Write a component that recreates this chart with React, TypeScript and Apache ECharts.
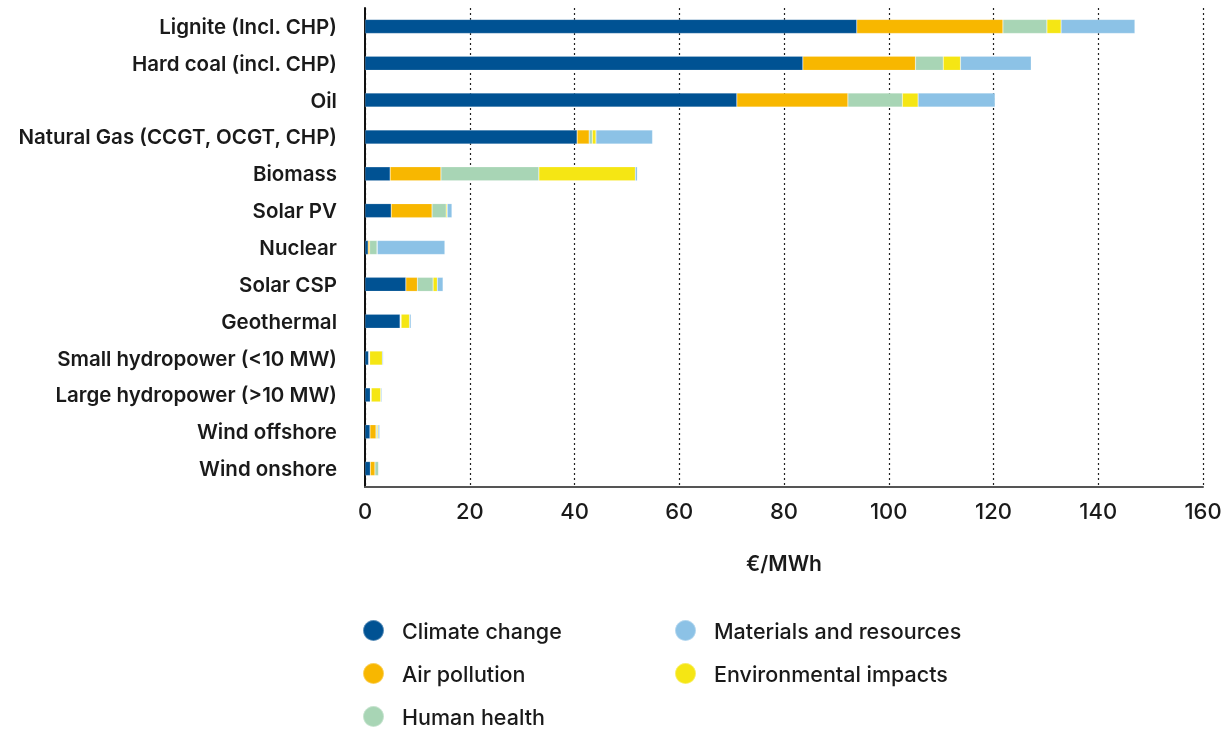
import React, { useEffect, useRef } from "react";
import * as echarts from "echarts";

const categories = [
  "Lignite (Incl. CHP)",
  "Hard coal (incl. CHP)",
  "Oil",
  "Natural Gas (CCGT, OCGT, CHP)",
  "Biomass",
  "Solar PV",
  "Nuclear",
  "Solar CSP",
  "Geothermal",
  "Small hydropower (<10 MW)",
  "Large hydropower (>10 MW)",
  "Wind offshore",
  "Wind onshore",
];

const climateChange = [93.9, 83.6, 71.0, 40.5, 4.8, 5.0, 0.6, 7.8, 6.7, 0.7, 1.0, 0.95, 1.0];
const airPollution = [27.9, 21.5, 21.2, 2.3, 9.7, 7.8, 0.3, 2.2, 0.1, 0.1, 0.1, 1.15, 0.9];
const humanHealth = [8.4, 5.3, 10.4, 0.6, 18.7, 2.7, 1.4, 3.0, 0.1, 0.1, 0.1, 0.2, 0.7];
const environmentalImpacts = [2.7, 3.3, 3.0, 0.7, 18.4, 0.2, 0.05, 0.8, 1.6, 2.4, 1.8, 0.2, 0.05];
const materialsResources = [14.1, 13.5, 14.7, 10.8, 0.4, 0.9, 12.9, 1.1, 0.3, 0.2, 0.2, 0.3, 0.1];

const xTicks = { min: 0, max: 160, interval: 20 };
const axisName = "€/MWh";

const seriesDefs = [
  { name: "Climate change", data: climateChange, color: "#005293" },
  { name: "Air pollution", data: airPollution, color: "#F8B700" },
  { name: "Human health", data: humanHealth, color: "#A8D5B5" },
  { name: "Environmental impacts", data: environmentalImpacts, color: "#F5E614" },
  { name: "Materials and resources", data: materialsResources, color: "#8CC2E6" },
];

const legendPos: Record<string, { left: number; top: number }> = {
  "Climate change": { left: 357, top: 614 },
  "Materials and resources": { left: 669, top: 614 },
  "Air pollution": { left: 357, top: 657 },
  "Environmental impacts": { left: 669, top: 657 },
  "Human health": { left: 357, top: 700 },
};

const FONT = "Inter, 'Noto Sans', sans-serif";

export default function App() {
  const ref = useRef<HTMLDivElement>(null);
  useEffect(() => {
    if (!ref.current) return;
    const chart = echarts.init(ref.current, null, { renderer: "svg" });
    chart.setOption({
      animation: false,
      textStyle: { fontFamily: FONT },
      grid: { left: 365, right: 28, top: 8, bottom: 244, containLabel: false },
      legend: seriesDefs.map((s) => ({
        data: [s.name],
        left: legendPos[s.name].left,
        top: legendPos[s.name].top,
        icon: "circle",
        itemWidth: 21,
        itemHeight: 21,
        itemGap: 0,
        selectedMode: false,
        textStyle: {
          fontFamily: FONT,
          fontSize: 21.5,
          fontWeight: 500,
          color: "#1a1a1a",
          padding: [0, 0, 0, 13],
        },
      })),
      xAxis: {
        type: "value",
        min: xTicks.min,
        max: xTicks.max,
        interval: xTicks.interval,
        name: axisName,
        nameLocation: "middle",
        nameGap: 66,
        nameTextStyle: { fontFamily: FONT, fontSize: 21, fontWeight: 600, color: "#1a1a1a" },
        axisLine: { show: true, lineStyle: { color: "#555", width: 2 } },
        axisTick: { show: false },
        axisLabel: { fontFamily: FONT, fontSize: 22, fontWeight: 500, color: "#1a1a1a", margin: 13 },
        splitLine: { show: true, lineStyle: { color: "#222", type: [2, 3], width: 1.2 } },
      },
      yAxis: {
        type: "category",
        data: categories,
        inverse: true,
        axisLine: { show: true, lineStyle: { color: "#111", width: 2 } },
        axisTick: { show: false },
        axisLabel: { fontFamily: FONT, fontSize: 20.5, fontWeight: 600, color: "#1a1a1a", margin: 28 },
      },
      series: seriesDefs.map((s) => ({
        name: s.name,
        type: "bar",
        stack: "total",
        barWidth: 14,
        data: s.data,
        itemStyle: { color: s.color, borderColor: "rgba(255,255,255,0.35)", borderWidth: 0.5 },
        emphasis: { disabled: true },
      })),
    });
    return () => chart.dispose();
  }, []);
  return <div ref={ref} style={{ position: "fixed", left: 0, top: 0, width: 1231, height: 731 }} />;
}
